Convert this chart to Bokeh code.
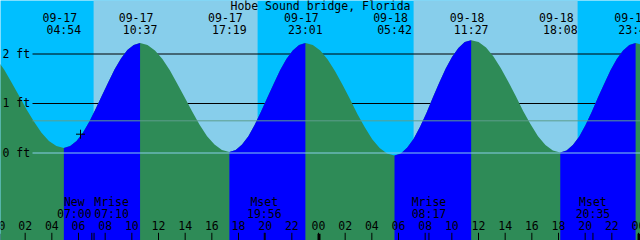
from bokeh.plotting import figure
from bokeh.models import Range1d
from bokeh.core.properties import value
from bokeh.embed import file_html
from bokeh.resources import INLINE

# ---------------- data (hours from 09-17 00:00, heights in ft) ----------------
title = "Hobe Sound bridge, Florida"

curve_times = [-0.125, 0.433, 0.992, 1.55, 2.108, 2.667, 3.225, 3.783, 4.342, 4.90,
               5.376, 5.853, 6.329, 6.806, 7.282, 7.759, 8.235, 8.711, 9.188, 9.664, 10.141, 10.617,
               11.175, 11.733, 12.292, 12.85, 13.408, 13.967, 14.525, 15.083, 15.642, 16.2, 16.758, 17.317,
               17.792, 18.267, 18.742, 19.217, 19.692, 20.167, 20.642, 21.117, 21.592, 22.067, 22.542, 23.017,
               23.574, 24.131, 24.688, 25.245, 25.802, 26.359, 26.915, 27.472, 28.029, 28.586, 29.143, 29.70,
               30.179, 30.658, 31.138, 31.617, 32.096, 32.575, 33.054, 33.533, 34.013, 34.492, 34.971, 35.45,
               36.007, 36.564, 37.121, 37.678, 38.235, 38.792, 39.348, 39.905, 40.462, 41.019, 41.576, 42.133,
               42.604, 43.075, 43.546, 44.017, 44.488, 44.958, 45.429, 45.9, 46.371, 46.842, 47.312, 47.783,
               48.339]
curve_heights = [1.89, 1.68, 1.42, 1.15, 0.88, 0.63, 0.41, 0.24, 0.14, 0.10,
                 0.14, 0.24, 0.41, 0.63, 0.89, 1.16, 1.43, 1.69, 1.91, 2.08, 2.18, 2.22,
                 2.18, 2.07, 1.90, 1.67, 1.40, 1.12, 0.84, 0.57, 0.34, 0.17, 0.06, 0.02,
                 0.06, 0.17, 0.34, 0.57, 0.84, 1.12, 1.40, 1.67, 1.90, 2.07, 2.18, 2.22,
                 2.18, 2.07, 1.89, 1.65, 1.38, 1.09, 0.79, 0.52, 0.28, 0.10, -0.01, -0.05,
                 -0.01, 0.11, 0.29, 0.53, 0.81, 1.12, 1.42, 1.70, 1.94, 2.12, 2.24, 2.28,
                 2.24, 2.13, 1.95, 1.71, 1.44, 1.15, 0.85, 0.58, 0.34, 0.16, 0.05, 0.01,
                 0.05, 0.16, 0.33, 0.56, 0.83, 1.12, 1.40, 1.67, 1.90, 2.07, 2.18, 2.22,
                 2.18]

tide_dates = ["09-17", "09-17", "09-17", "09-17", "09-18", "09-18", "09-18", "09-18"]
tide_clock = ["04:54", "10:37", "17:19", "23:01", "05:42", "11:27", "18:08", "23:47"]

sunrise_clock = ["09-17 07:08", "09-18 07:08"]
sunset_clock = ["09-17 19:26", "09-18 19:26"]

moon_dates = ["09-17", "09-17", "09-17", "09-18", "09-18"]
moon_clock = ["07:00", "07:10", "19:56", "08:17", "20:35"]
moon_names = ["New", "Mrise", "Mset", "Mrise", "Mset"]
moon_shift = [-1, 1, 0, 0, 0]   # label pushed left / right to avoid overlap

depth_levels = [0, 1, 2]
msl_level = 0.65
mark_time = 6.15
mark_height = 0.38
hour_ticks = list(range(0, 49, 2))

# ---------------- layout helpers ----------------
W, H = 640, 240
PX_H = 320 / 24.0      # pixels per hour
PX_FT = 49.5           # pixels per foot
ZERO_PX = 152.5        # pixel row of 0 ft
X0 = 2 / PX_H
X1 = X0 + W / PX_H
Y_TOP = ZERO_PX / PX_FT
Y_BOT = (ZERO_PX - H) / PX_FT
TY = -4.5              # text baseline correction (px)


def ypx(py):
    return (ZERO_PX - py) / PX_FT


def tpx(py):
    return ypx(py + TY)


def dx(px):
    return px / PX_H


def to_hours(date, clock):
    day = int(date.split("-")[1]) - 17
    hh, mm = clock.split(":")
    return day * 24 + int(hh) + int(mm) / 60.0


FONT = value("DejaVu Sans Mono")
FS = value("11.5px")

p = figure(width=W, height=H, x_range=Range1d(X0, X1), y_range=Range1d(Y_BOT, Y_TOP),
           output_backend="svg", toolbar_location=None, min_border=0,
           x_axis_location=None, y_axis_location=None)
p.grid.visible = False
p.outline_line_color = None
p.background_fill_color = "#00BFFF"
p.border_fill_color = "#00BFFF"

# day bands
rise = [to_hours(*s.split(" ")) for s in sunrise_clock]
sset = [to_hours(*s.split(" ")) for s in sunset_clock]
p.quad(left=rise, right=sset, bottom=Y_BOT - 1, top=Y_TOP + 1, fill_color="#87CEEB", line_color=None)

# depth lines (under the water)
lx0 = X0 + dx(32)
p.segment(x0=[lx0] * 2, x1=[X1 + 1] * 2, y0=depth_levels[1:], y1=depth_levels[1:],
          line_color="black", line_width=1)

# water fill: falling = sea green, rising = blue
p.varea(x=curve_times, y1=[Y_BOT - 1] * len(curve_times), y2=curve_heights, fill_color="#2E8B57")
i = 0
n = len(curve_heights)
while i < n - 1:
    if curve_heights[i + 1] > curve_heights[i]:
        j = i
        while j < n - 1 and curve_heights[j + 1] > curve_heights[j]:
            j += 1
        xs = curve_times[i:j + 1]
        ys = curve_heights[i:j + 1]
        p.varea(x=xs, y1=[Y_BOT - 1] * len(xs), y2=ys, fill_color="#0000FF")
        i = j
    else:
        i += 1

# datum and MSL lines
p.segment(x0=[lx0], x1=[X1 + 1], y0=[depth_levels[0]], y1=[depth_levels[0]], line_color="#87CEEB", line_width=1)
p.segment(x0=[lx0], x1=[X1 + 1], y0=[msl_level], y1=[msl_level], line_color="#5E9E8C", line_width=1)

# marker
p.scatter(x=[mark_time], y=[mark_height], marker="cross", size=9, line_color="black", line_width=1)

# title
p.text(x=[(X0 + X1) / 2], y=[tpx(9.5)], text=[title], text_align="center", text_baseline="alphabetic",
       text_font=FONT, text_font_size=FS, text_color="black")

# tide event labels
tt = [to_hours(d, c) for d, c in zip(tide_dates, tide_clock)]
p.text(x=[t - dx(4) for t in tt], y=[tpx(21)] * len(tt), text=tide_dates, text_align="center",
       text_baseline="alphabetic", text_font=FONT, text_font_size=FS, text_color="black")
p.text(x=tt, y=[tpx(33.5)] * len(tt), text=tide_clock, text_align="center",
       text_baseline="alphabetic", text_font=FONT, text_font_size=FS, text_color="black")

# depth labels
p.text(x=[X0 + dx(2)] * len(depth_levels), y=[lv - (4 + TY) / PX_FT for lv in depth_levels],
       text=[f"{lv} ft" for lv in depth_levels], text_align="left", text_baseline="alphabetic",
       text_font=FONT, text_font_size=FS, text_color="black")

# moon labels
mt = [to_hours(d, c) for d, c in zip(moon_dates, moon_clock)]
mx = [t + s * dx(17.5) for t, s in zip(mt, moon_shift)]
p.text(x=mx, y=[tpx(206)] * len(mt), text=moon_names, text_align="center",
       text_baseline="alphabetic", text_font=FONT, text_font_size=FS, text_color="black")
p.text(x=mx, y=[tpx(217.5)] * len(mt), text=moon_clock, text_align="center",
       text_baseline="alphabetic", text_font=FONT, text_font_size=FS, text_color="black")

# hour labels and ticks
p.text(x=hour_ticks, y=[tpx(229)] * len(hour_ticks), text=[f"{h % 24:02d}" for h in hour_ticks],
       text_align="center", text_baseline="alphabetic", text_font=FONT, text_font_size=FS, text_color="black")
p.segment(x0=hour_ticks, x1=hour_ticks, y0=[ypx(232.3)] * len(hour_ticks), y1=[Y_BOT - 1] * len(hour_ticks),
          line_color="black", line_width=1)
p.segment(x0=mt, x1=mt, y0=[ypx(232.3)] * len(mt), y1=[Y_BOT - 1] * len(mt), line_color="black", line_width=1)
mid = [h for h in hour_ticks if h % 24 == 0]
p.segment(x0=[m + dx(0.5) for m in mid], x1=[m + dx(0.5) for m in mid], y0=[ypx(233.3)] * len(mid),
          y1=[Y_BOT - 1] * len(mid), line_color="black", line_width=3)

open("out.html", "w").write(file_html(p, INLINE))
